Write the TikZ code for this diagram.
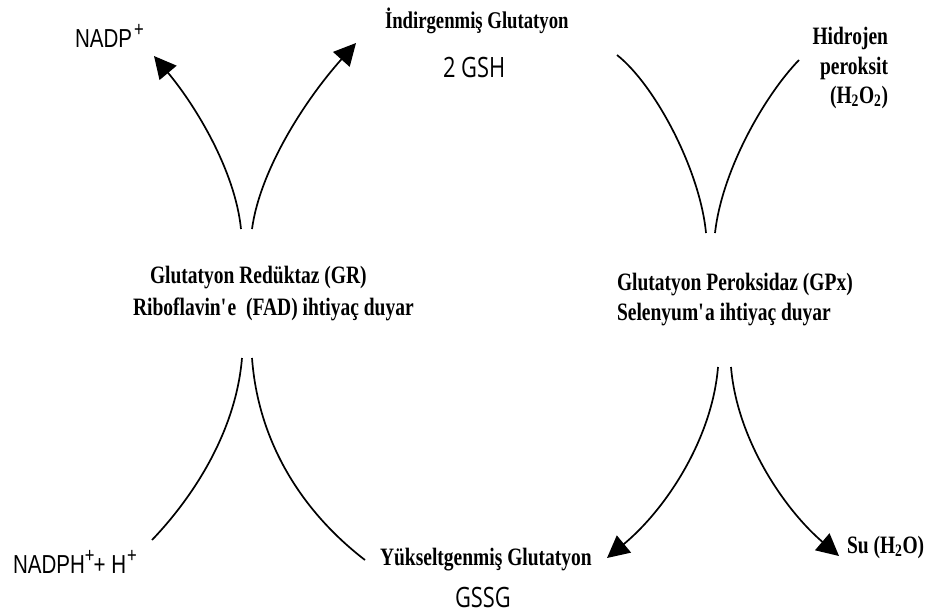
\documentclass[tikz,border=0pt]{standalone}
\usepackage{fontspec}
\newfontfamily\serifB{Liberation Serif}[FakeStretch=0.78]
\newfontfamily\sansA{Liberation Sans}[FakeStretch=0.79]
\newfontfamily\sansO{Open Sans}[FakeStretch=0.78]
\usetikzlibrary{arrows.meta}
\newcommand{\supplus}{\raisebox{11pt}{\fontsize{21}{21}\selectfont +}}
\tikzset{
  lbl/.style={inner sep=0pt, outer sep=0pt, anchor=base west},
  srf/.style={lbl, font=\serifB\bfseries\fontsize{25}{30}\selectfont},
  srfs/.style={lbl, font=\serifB\bfseries\fontsize{24}{30}\selectfont},
  sansa/.style={lbl, font=\sansA\fontsize{26}{30}\selectfont},
  sanso/.style={lbl, font=\sansO\fontsize{28}{32}\selectfont},
  curve/.style={line width=1.7pt, black},
  arr/.style={curve, -{Triangle[length=22pt,width=22pt]}}
}
\begin{document}
\begin{tikzpicture}[x=1pt,y=-1pt]
\useasboundingbox[fill=white] (0,0) rectangle (925,613);

% labels
\node[sansa] (nadp) at (75,47) {NADP\hspace{2pt}\supplus};
\node[srfs] (indir) at (385,28) {İndirgenmiş Glutatyon};
\node[sanso] (gsh) at (443,77) {2 GSH};
\node[srf, anchor=base east] (hid1) at (888,44) {Hidrojen};
\node[srf, anchor=base east] (hid2) at (888,74) {peroksit};
\node[srf, anchor=base east] (hid3) at (888,103) {(H\textsubscript{2}O\textsubscript{2})};
\node[srf] (gr1) at (150,283) {Glutatyon Redüktaz (GR)};
\node[srf] (gr2) at (133,315) {Riboflavin\textquotesingle e\ \ (FAD) ihtiyaç duyar};
\node[srf] (gpx1) at (617,290) {Glutatyon Peroksidaz (GPx)};
\node[srf] (gpx2) at (617,320) {Selenyum\textquotesingle a ihtiyaç duyar};
\node[sansa] (nadph) at (13,573) {NADPH\supplus\hspace{-1pt}+ H\hspace{1pt}\supplus};
\node[srf] (yuk) at (380,565) {Yükseltgenmiş Glutatyon};
\node[sanso] (gssg) at (455,607) {GSSG};
\node[srf] (su) at (847,553) {Su (H\textsubscript{2}O)};

% curve end points
\coordinate (grTopL) at (241,229);
\coordinate (grTopR) at (252,229);
\coordinate (tipNadp) at (154,56);
\coordinate (tipGsh) at (356,43);
\coordinate (gshEnd) at (617,55);
\coordinate (h2o2End) at (799,60);
\coordinate (gpxTopL) at (706,233);
\coordinate (gpxTopR) at (715,233);
\coordinate (grBotL) at (242,358);
\coordinate (grBotR) at (252,358);
\coordinate (nadphEnd) at (152,540);
\coordinate (gssgEnd) at (365,560);
\coordinate (gpxBotL) at (718,367);
\coordinate (gpxBotR) at (731,367);
\coordinate (tipGssg) at (607,558);
\coordinate (tipSu) at (839,556);

% glutathione reductase
\draw[arr] (grTopL) .. controls (235,170) and (195,105) .. (tipNadp);
\draw[arr] (grTopR) .. controls (260,170) and (305,100) .. (tipGsh);
\draw[curve] (grBotL) .. controls (236,430) and (195,495) .. (nadphEnd);
\draw[curve] (grBotR) .. controls (258,440) and (300,510) .. (gssgEnd);

% glutathione peroxidase
\draw[curve] (gshEnd) .. controls (655,85) and (700,170) .. (gpxTopL);
\draw[curve] (h2o2End) .. controls (765,95) and (722,170) .. (gpxTopR);
\draw[arr] (gpxBotL) .. controls (712,440) and (665,510) .. (tipGssg);
\draw[arr] (gpxBotR) .. controls (737,440) and (785,510) .. (tipSu);
\end{tikzpicture}
\end{document}
